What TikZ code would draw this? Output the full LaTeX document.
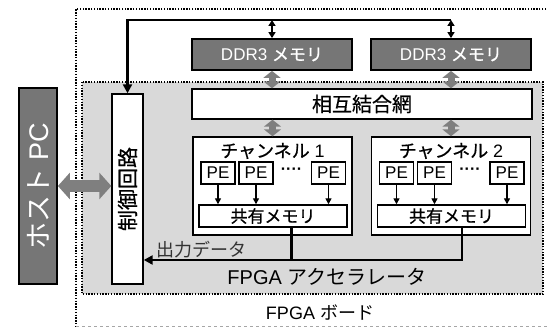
\documentclass[tikz,border=0pt]{standalone}
\usepackage{fontspec}
\setmainfont{Liberation Sans}
\newfontfamily\jp{Noto Sans CJK JP}
\newfontfamily\jpb[FakeBold=0.6]{Noto Sans CJK JP}
\usetikzlibrary{arrows.meta,calc}
\definecolor{darkfill}{HTML}{767676}
\definecolor{fatgray}{HTML}{7F7F7F}
\definecolor{accfill}{HTML}{D9D9D9}
\definecolor{lbl}{HTML}{333333}
\newcommand\myfs[1]{\fontsize{#1}{#1}\selectfont}
\begin{document}
\begin{tikzpicture}[x=1pt,y=-1pt,
  box/.style={draw=black,line width=1.4pt,fill=white,inner sep=0pt,rectangle},
  darkbox/.style={box,line width=1.8pt,fill=darkfill,text=white},
  bdot/.style={draw=black,line width=1.4pt,dash pattern=on 1.4pt off 1.4pt},
  lightdash/.style={draw=black!35,line width=1pt,dash pattern=on 3pt off 3pt},
  fatV/.style={draw=fatgray,line width=7pt,{Triangle[length=7pt,width=17pt]}-{Triangle[length=7pt,width=17pt]}},
  fatH/.style={draw=fatgray,line width=12pt,{Triangle[length=12pt,width=26pt]}-{Triangle[length=12pt,width=26pt]}},
  bus/.style={draw=black,line width=2.3pt},
  small/.style={draw=black,line width=1.4pt,-{Triangle[length=6pt,width=6pt]}},
  smalldbl/.style={draw=black,line width=1.6pt,{Triangle[length=6pt,width=7pt]}-{Triangle[length=6pt,width=7pt]}}
]
\useasboundingbox (0,0) rectangle (547,328);
\clip (0,0) rectangle (547,328);

% FPGA board
\draw[bdot] (560,9) -- (76,9) -- (76,327);
\draw[lightdash] (76,327) -- (560,327);
\node[font=\myfs{18}] (boardlbl) at (320,313) {FPGA {\jp ボード}};

% FPGA accelerator
\draw[bdot,fill=accfill] (82,82) rectangle (543,294);
\node[font=\myfs{20}] (acclbl) at (327,277) {FPGA {\jp アクセラレータ}};

% host and control
\node[darkbox,minimum width=38pt,minimum height=196pt] (host) at (38,186) {};
\node[rotate=90,text=white,font=\myfs{27}] (hostlbl) at (host.center) {{\jp ホスト} PC};
\node[box,minimum width=31pt,minimum height=190pt] (ctrl) at (127.5,189) {};
\node[rotate=90,font=\myfs{21}\jpb] (ctrllbl) at (ctrl.center) {制御回路};

% memories and network
\node[darkbox,minimum width=160pt,minimum height=31pt,font=\myfs{17}] (ddr1) at (272,54.5) {DDR3 {\jpb メモリ}};
\node[darkbox,minimum width=160pt,minimum height=31pt,font=\myfs{17}] (ddr2) at (451,54.5) {DDR3 {\jpb メモリ}};
\node[box,minimum width=340pt,minimum height=30pt,font=\myfs{20}\jpb] (net) at (362,104) {相互結合網};

% channels
\foreach \c/\cx in {1/272.5,2/451}{
  \node[box,minimum width=159pt,minimum height=98pt] (ch\c) at (\cx,186) {};
  \node[font=\myfs{18}] (ch\c lbl) at (\cx,151) {{\jpb チャンネル} \c};
  \node[box,minimum width=34pt,minimum height=22pt,font=\myfs{17}] (pe\c a) at (\cx-54.5,173) {PE};
  \node[box,minimum width=34pt,minimum height=22pt,font=\myfs{17}] (pe\c b) at (\cx-16.5,173) {PE};
  \node[box,minimum width=34pt,minimum height=22pt,font=\myfs{17}] (pe\c c) at (\cx+56,173) {PE};
  \node[font=\myfs{16}\bfseries,inner sep=0pt] (dots\c) at (\cx+19,171) {····};
  \node[box,minimum width=148pt,minimum height=22pt,font=\myfs{17}\jpb] (sh\c) at (\cx+0.5,216) {共有メモリ};
  \foreach \p in {a,b,c}{
    \draw[small] (pe\c\p.south) -- (pe\c\p.south |- sh\c.north);
  }
  \draw[fatV] (ddr\c.south) -- (ddr\c.south |- net.north);
  \draw[fatV] (ch\c.north |- net.south) -- (ch\c.north);
}

% host <-> control
\draw[fatH] (host.east) -- (host.east -| ctrl.west);

% control line to memories
\coordinate (topy) at (0,20);
\draw[bus,-{Triangle[length=9pt,width=9pt]}] (ddr2.north |- topy) -| (ctrl.north);
\draw[smalldbl] (ddr1.north |- topy) -- (ddr1.north);
\draw[smalldbl] (ddr2.north |- topy) -- (ddr2.north);

% output data
\coordinate (outy) at (0,260);
\coordinate (o1) at ($(sh1.south)+(18.5,0)$);
\coordinate (o2) at ($(sh2.south)+(10.5,0)$);
\draw[bus] (o1) -- (o1 |- outy);
\draw[bus,-{Triangle[length=9pt,width=9pt]}] (o2) |- (ctrl.east |- outy);
\node[anchor=base west,font=\myfs{18}\jp,text=lbl,inner sep=0pt] (outlbl) at (156,257) {出力データ};
\end{tikzpicture}
\end{document}
